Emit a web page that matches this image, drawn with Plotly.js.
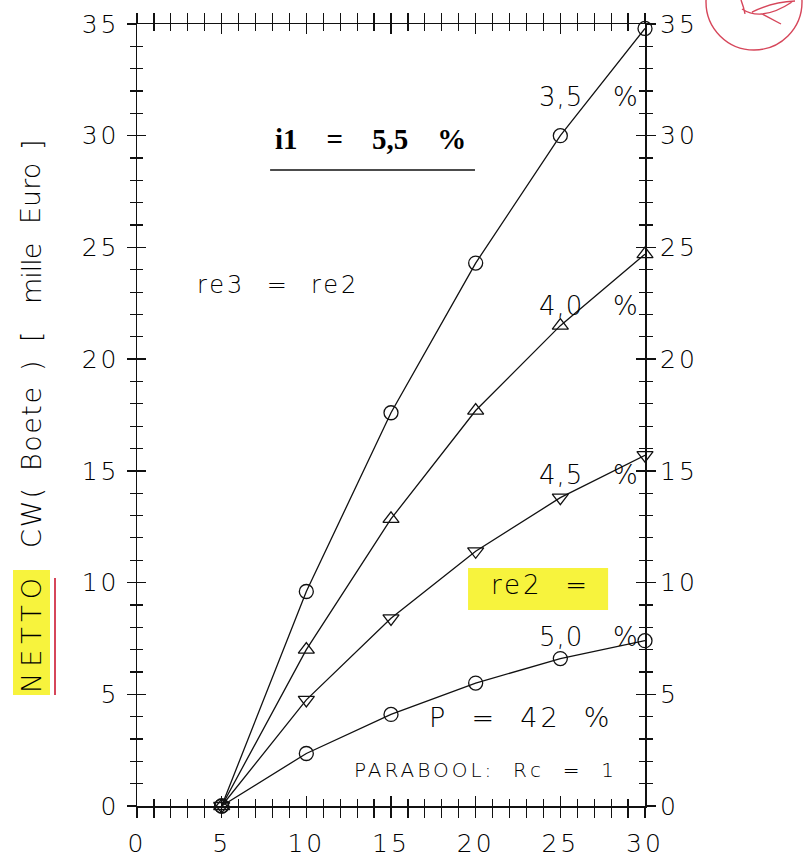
<!DOCTYPE html>
<html>
<head>
<meta charset="utf-8">
<script src="https://cdn.plot.ly/plotly-3.0.1.min.js"></script>
<style>
  html, body { margin:0; padding:0; background:#fff; }
  svg text { letter-spacing: 3px; }
</style>
</head>
<body>
<div id="chart" style="width:803px;height:856px;"></div>
<script>
// ---- data ----
const xYears = [5, 10, 15, 20, 25, 30];
const re35 = [0, 9.6, 17.6, 24.3, 30.0, 34.8];
const re40 = [0, 7.0, 12.85, 17.7, 21.5, 24.7];
const re45 = [0, 4.75, 8.4, 11.4, 13.8, 15.7];
const re50 = [0, 2.35, 4.1, 5.5, 6.6, 7.4];
const seriesLabels = ['3,5', '4,0', '4,5', '5,0'];
const xTickVals = [0, 5, 10, 15, 20, 25, 30];
const yTickVals = [0, 5, 10, 15, 20, 25, 30, 35];
const yTitleWords = ['NETTO', 'CW(', 'Boete', ')', '[', 'mille', 'Euro', ']'];

const ink = '#111';
const textInk = '#000';
const fam = 'DejaVu Sans';
const lineW = 1.3;

function series(y, sym) {
  return {
    x: xYears, y: y, type: 'scatter', mode: 'lines+markers',
    line: {color: ink, width: lineW},
    marker: {symbol: sym, size: 14, color: ink, line: {color: ink, width: 1.3}},
    cliponaxis: false, showlegend: false, hoverinfo: 'x+y'
  };
}

const traces = [
  series(re35, 'circle-open'),
  series(re40, 'triangle-up-open'),
  series(re45, 'triangle-down-open'),
  series(re50, 'circle-open'),
  // helper traces so the overlay axes (inside ticks, right labels) are drawn
  {x: xYears, y: re35, xaxis: 'x2', yaxis: 'y2', mode: 'none', type: 'scatter', showlegend: false, hoverinfo: 'skip'},
  {x: xYears, y: re35, xaxis: 'x', yaxis: 'y3', mode: 'none', type: 'scatter', showlegend: false, hoverinfo: 'skip'}
];

const tickFont = {family: fam, size: 25, color: textInk, weight: 200};
const commonX = {range: [0, 30], showgrid: false, zeroline: false, fixedrange: true};
const commonY = {range: [0, 35], showgrid: false, zeroline: false, fixedrange: true};

// pixel -> paper helpers for decorations outside the plot area
const L = 137, R = 645, T = 24, B = 806;
function px(x) { return (x - L) / (R - L); }
function py(y) { return (B - y) / (B - T); }
function pt(x, y) { return px(x).toFixed(4) + ',' + py(y).toFixed(4); }

const red = 'rgb(214,70,90)';
const yellow = 'rgba(246,242,40,0.9)';

const sp = '\u00A0';
function gap(n) { return sp.repeat(n); }
function spaced(t, ls) { return '<span style="letter-spacing:' + ls + 'px">' + t + '</span>'; }

const annFont = (s) => ({family: fam, size: s, color: textInk, weight: 200});
const annotations = [
  {x: 13.76, y: 29.85, xref: 'x', yref: 'y', showarrow: false,
   text: spaced('i1' + gap(4) + '=' + gap(4) + '5,5' + gap(4) + '%', 0),
   font: {family: 'Liberation Serif', size: 29, color: textInk, weight: 'bold'}},
  {x: 8.33, y: 23.32, showarrow: false, text: 're3' + gap(2) + '=' + gap(2) + 're2', font: annFont(24)},
  {x: 25.05, y: 31.75, showarrow: false, text: spaced(seriesLabels[0], 1), font: annFont(26)},
  {x: 28.94, y: 31.75, showarrow: false, text: '%', font: annFont(26)},
  {x: 25.05, y: 22.4, showarrow: false, text: spaced(seriesLabels[1], 1), font: annFont(26)},
  {x: 28.94, y: 22.4, showarrow: false, text: '%', font: annFont(26)},
  {x: 25.05, y: 14.8, showarrow: false, text: spaced(seriesLabels[2], 1), font: annFont(26)},
  {x: 28.94, y: 14.8, showarrow: false, text: '%', font: annFont(26)},
  {x: 23.8, y: 9.89, showarrow: false, text: 're2' + gap(2) + '=', font: annFont(26)},
  {x: 25.05, y: 7.56, showarrow: false, text: spaced(seriesLabels[3], 1), font: annFont(26)},
  {x: 28.94, y: 7.56, showarrow: false, text: '%', font: annFont(26)},
  {x: 22.62, y: 3.94, showarrow: false, text: 'P' + gap(2) + '=' + gap(2) + '42' + gap(2) + '%', font: annFont(27)},
  {x: 20.56, y: 1.61, showarrow: false, text: 'PARABOOL:' + gap(2) + 'Rc' + gap(2) + '=' + gap(2) + '1', font: annFont(20)}
];

// y-axis title, word by word (rotated), centres and letter spacing measured on the reference
const titleCentres = [633, 517, 428, 366, 337, 274, 194, 145];
const titleSpacing = [6, 2, 1.5, 0, 0, -1, 0, 0];
yTitleWords.forEach(function (w, i) {
  annotations.push({
    x: px(31), y: py(titleCentres[i]), xref: 'paper', yref: 'paper', showarrow: false,
    textangle: -90, xanchor: 'center', yanchor: 'middle',
    text: spaced(w, titleSpacing[i]), font: annFont(27)
  });
});

const shapes = [
  // underline of the title line
  {type: 'line', xref: 'x', yref: 'y', x0: 7.86, x1: 19.96, y0: 28.47, y1: 28.47, line: {color: ink, width: 1.5}},
  // yellow highlight behind "re2 ="
  {type: 'rect', xref: 'x', yref: 'y', layer: 'below', x0: 19.55, x1: 27.82, y0: 8.77, y1: 10.65,
   fillcolor: yellow, line: {width: 0}},
  // yellow highlight behind NETTO
  {type: 'rect', xref: 'paper', yref: 'paper', layer: 'below', x0: px(13), x1: px(50), y0: py(695), y1: py(570),
   fillcolor: yellow, line: {width: 0}},
  // red marker line beside NETTO
  {type: 'line', xref: 'paper', yref: 'paper', x0: px(55), x1: px(55), y0: py(695), y1: py(578),
   line: {color: red, width: 2}},
  // red stamp circle
  {type: 'circle', xref: 'paper', yref: 'paper', x0: px(706), x1: px(802), y0: py(50), y1: py(-46),
   line: {color: red, width: 1.4}},
  {type: 'path', xref: 'paper', yref: 'paper', line: {color: red, width: 1.4},
   path: 'M' + pt(741, 0) + ' Q' + pt(744, 8) + ' ' + pt(745, 14) +
         ' M' + pt(742, 9) + ' Q' + pt(762, 22) + ' ' + pt(792, 2) +
         ' M' + pt(752, 12) + ' Q' + pt(772, 2) + ' ' + pt(795, 1) +
         ' M' + pt(762, 14) + ' L' + pt(781, 24)}
];

const layout = {
  width: 803, height: 856,
  margin: {l: L, r: 803 - R, t: T, b: 856 - B, pad: 0},
  paper_bgcolor: '#fff', plot_bgcolor: 'rgba(0,0,0,0)',
  showlegend: false,
  xaxis: Object.assign({}, commonX, {
    tickmode: 'array', tickvals: xTickVals, ticktext: xTickVals.map(String),
    ticks: 'outside', ticklen: 10, tickwidth: 1.3, tickcolor: ink,
    minor: {dtick: 1, ticks: 'outside', ticklen: 7, tickwidth: 1.2, tickcolor: ink},
    showline: true, linecolor: ink, linewidth: 1.5, mirror: 'allticks',
    tickfont: tickFont, ticklabelstandoff: 4
  }),
  xaxis2: Object.assign({}, commonX, {
    overlaying: 'x', tickmode: 'array', tickvals: xTickVals,
    ticks: 'inside', ticklen: 10, tickwidth: 1.3, tickcolor: ink,
    minor: {dtick: 1, ticks: 'inside', ticklen: 7, tickwidth: 1.2, tickcolor: ink},
    mirror: 'allticks', showline: false, showticklabels: false
  }),
  yaxis: Object.assign({}, commonY, {
    tickmode: 'array', tickvals: yTickVals, ticktext: yTickVals.map(String),
    ticks: 'outside', ticklen: 9, tickwidth: 1.3, tickcolor: ink,
    minor: {dtick: 1, ticks: 'outside', ticklen: 6, tickwidth: 1.2, tickcolor: ink},
    showline: true, linecolor: ink, linewidth: 1.5, mirror: 'allticks',
    tickfont: tickFont, ticklabelstandoff: 2
  }),
  yaxis2: Object.assign({}, commonY, {
    overlaying: 'y', tickmode: 'array', tickvals: yTickVals,
    ticks: 'inside', ticklen: 9, tickwidth: 1.3, tickcolor: ink,
    minor: {dtick: 1, ticks: 'inside', ticklen: 6, tickwidth: 1.2, tickcolor: ink},
    mirror: 'allticks', showline: false, showticklabels: false
  }),
  yaxis3: Object.assign({}, commonY, {
    overlaying: 'y', side: 'right', tickmode: 'array', tickvals: yTickVals, ticktext: yTickVals.map(String),
    ticks: '', showline: false, tickfont: tickFont, ticklabelstandoff: 14
  }),
  annotations: annotations,
  shapes: shapes
};

Plotly.newPlot('chart', traces, layout, {staticPlot: true, displayModeBar: false});
</script>
</body>
</html>
